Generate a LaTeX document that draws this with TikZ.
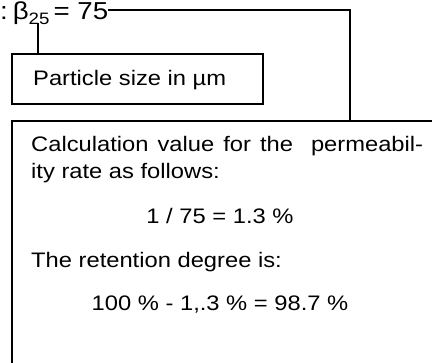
\documentclass[tikz,border=0pt]{standalone}
\usepackage{fontspec}
\setmainfont{Liberation Sans}[FakeStretch=1.13]
\begin{document}
\begin{tikzpicture}[x=1pt,y=-1pt,
  ln/.style={line width=1.6pt,black},
  body/.style={inner sep=0pt,anchor=base west,font=\fontsize{21}{27}\selectfont},
  bodyc/.style={inner sep=0pt,anchor=base,font=\fontsize{21}{27}\selectfont},
  boxed/.style={draw,line width=1.6pt,rectangle,inner sep=0pt,anchor=north west}]
\useasboundingbox (0,0) rectangle (432,363);
\clip (0,0) rectangle (432,363);
% top formula
\node[inner sep=0pt,anchor=base west,font=\fontsize{24.5}{28}\selectfont] (beta) at (0,20)
  {:\hspace{0.2em}β\raisebox{-5pt}{\fontsize{16.5}{16}\selectfont 25}\,= 75};
% small box
\node[boxed,minimum width=251pt,minimum height=50pt] (small) at (11,53) {};
\node[body] (ps) at (33,86) {Particle size in µm};
% big box
\node[boxed,minimum width=450pt,minimum height=270pt] (big) at (11,120) {};
\node[body] (l1) at (31,152) {\makebox[392pt][s]{Calculation value for the\ \ permeabil-}};
\node[body] (l2) at (31,179) {ity rate as follows:};
\node[bodyc] (l3) at (220,224) {1 / 75 = 1.3 \%};
\node[body] (l4) at (31,268) {The retention degree is:};
\node[bodyc] (l5) at (220,311) {100 \% - 1,.3 \% = 98.7 \%};
% connectors
\coordinate (sub) at (38,23);
\coordinate (corner) at (350,10);
\draw[ln] (sub) -- (sub |- small.north);
\draw[ln] (beta.east |- corner) -- (corner) -- (corner |- big.north);
\end{tikzpicture}
\end{document}
